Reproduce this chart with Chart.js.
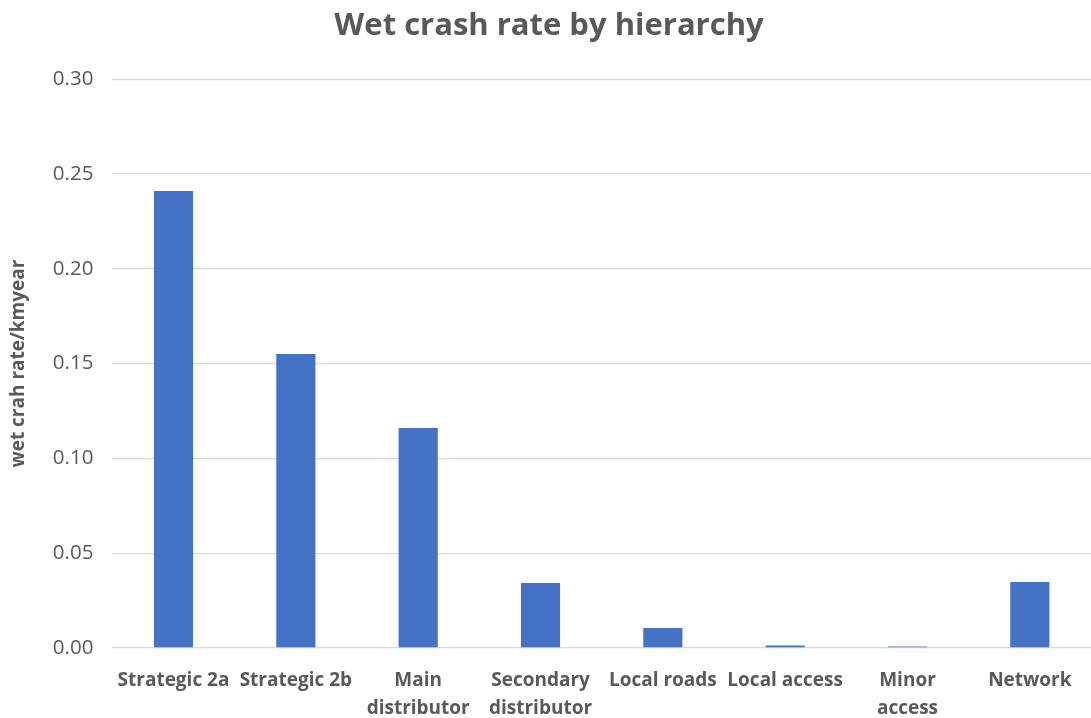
<!DOCTYPE html>
<html lang="en">
<head>
    <meta charset="UTF-8" />
    <title>Wet crash rate by hierarchy</title>
    <style>
        * { margin: 0; padding: 0; box-sizing: border-box; }
        body { background: #ffffff; width: 1091px; height: 718px; overflow: hidden; }
        .chart-box { position: relative; width: 1091px; height: 718px; }
    </style>
</head>
<body>
    <div class="chart-box">
        <canvas id="crashChart"></canvas>
    </div>
    <script src="https://cdn.jsdelivr.net/npm/chart.js"></script>
    <script>
        // categories (multi-line ones split into arrays)
        const categories = [
            'Strategic 2a',
            'Strategic 2b',
            ['Main', 'distributor'],
            ['Secondary', 'distributor'],
            'Local roads',
            'Local access',
            ['Minor', 'access'],
            'Network'
        ];
        // wet crash rate per km-year
        const wetCrashRate = [0.241, 0.155, 0.116, 0.0343, 0.0106, 0.0013, 0.0008, 0.0348];
        const yTicks = [0, 0.05, 0.10, 0.15, 0.20, 0.25, 0.30];

        const fontFamily = "'Open Sans', 'Liberation Sans', sans-serif";
        const grey = '#595959';

        const ctx = document.getElementById('crashChart').getContext('2d');
        new Chart(ctx, {
            type: 'bar',
            data: {
                labels: categories,
                datasets: [{
                    label: 'wet crash rate',
                    data: wetCrashRate,
                    backgroundColor: '#4472C4',
                    borderWidth: 0,
                    barPercentage: 0.32,
                    categoryPercentage: 1.0
                }]
            },
            options: {
                responsive: true,
                maintainAspectRatio: false,
                animation: false,
                layout: { padding: { top: 0, right: 0, bottom: 0, left: 7 } },
                plugins: {
                    legend: { display: false },
                    tooltip: { enabled: false },
                    title: {
                        display: true,
                        text: 'Wet crash rate by hierarchy',
                        color: grey,
                        font: { family: fontFamily, size: 31, weight: 'bold' },
                        padding: { top: 8, bottom: 34 }
                    }
                },
                scales: {
                    x: {
                        grid: { display: false },
                        border: { display: false },
                        // labels hang below the plot like the original, keep axis band short
                        afterFit: axis => { axis.height = 70; },
                        ticks: {
                            color: grey,
                            font: { family: fontFamily, size: 19, weight: 'bold', lineHeight: 1.45 },
                            maxRotation: 0,
                            minRotation: 0,
                            autoSkip: false,
                            padding: 11
                        }
                    },
                    y: {
                        min: 0,
                        max: 0.30,
                        afterBuildTicks: axis => {
                            axis.ticks = yTicks.map(v => ({ value: v }));
                        },
                        grid: { color: '#d9d9d9', lineWidth: 1.3, drawTicks: false },
                        border: { display: false },
                        ticks: {
                            color: grey,
                            font: { family: fontFamily, size: 20.5 },
                            padding: 19,
                            callback: v => v.toFixed(2)
                        },
                        title: {
                            display: true,
                            text: 'wet crah rate/kmyear',
                            color: grey,
                            font: { family: fontFamily, size: 19, weight: 'bold' },
                            padding: { top: 0, bottom: 4 }
                        }
                    }
                }
            }
        });
    </script>
</body>
</html>
